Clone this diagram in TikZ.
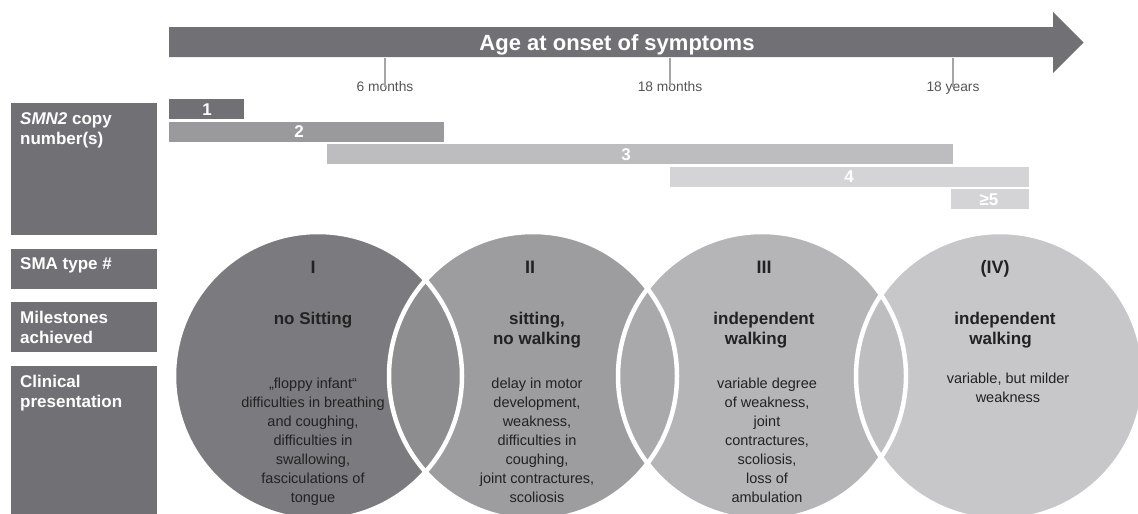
\documentclass[tikz,border=0pt]{standalone}
\usepackage{fontspec}
\setmainfont{Liberation Sans}
\definecolor{darkg}{HTML}{717175}
\definecolor{circI}{HTML}{7B7B7F}
\definecolor{lensA}{HTML}{8D8D90}
\definecolor{circII}{HTML}{9D9DA0}
\definecolor{barII}{HTML}{9A9A9D}
\definecolor{lensB}{HTML}{A9A9AC}
\definecolor{circIII}{HTML}{B5B5B8}
\definecolor{barIII}{HTML}{BDBDC0}
\definecolor{lensC}{HTML}{BEBEC1}
\definecolor{circIV}{HTML}{C7C7C9}
\definecolor{barIV}{HTML}{D4D4D6}
\definecolor{txt}{HTML}{222222}
\definecolor{ticktxt}{HTML}{555555}
\definecolor{tickcol}{HTML}{A5A5A5}
\tikzset{
 ctext/.style={font=\fontsize{14.5}{19}\selectfont, text=txt, align=center, inner sep=0pt, anchor=north},
 mtext/.style={font=\bfseries\fontsize{17}{20}\selectfont, text=txt, align=center, inner sep=0pt, anchor=north},
 ttext/.style={font=\bfseries\fontsize{18}{20}\selectfont, text=txt, inner sep=0pt, anchor=base},
 ltext/.style={font=\bfseries\fontsize{17}{20}\selectfont, text=white, align=left, inner sep=0pt, anchor=north west},
 btext/.style={font=\bfseries\fontsize{17}{20}\selectfont, text=white, inner sep=0pt, anchor=base},
 ticklabel/.style={font=\fontsize{13.8}{16}\selectfont, text=ticktxt, inner sep=0pt, anchor=base},
 tickline/.style={draw=tickcol, line width=1.2pt},
 lensline/.style={draw=white, line width=4.5pt},
}
\begin{document}
\begin{tikzpicture}[x=1pt,y=-1pt]
\clip (0,0) rectangle (1138,514);
\fill[white] (0,0) rectangle (1138,514);
% timeline arrow
\fill[darkg] (169,27) -- (1053,27) -- (1053,12) -- (1083.5,42.5) -- (1053,73) -- (1053,57) -- (169,57) -- cycle;
\node[font=\bfseries\fontsize{22}{26}\selectfont, text=white, inner sep=0pt, anchor=base] (title) at (617,50) {Age at onset of symptoms};
% ticks
\coordinate (k6) at (385,58);
\coordinate (k18m) at (670,58);
\coordinate (k18y) at (953,58);
\node[ticklabel] (t6) at (385,91) {6 months};
\node[ticklabel] (t18m) at (670,91) {18 months};
\node[ticklabel] (t18y) at (953,91) {18 years};
\draw[tickline] (k6) -- ([yshift=-6pt]t6.north);
\draw[tickline] (k18m) -- ([yshift=-6pt]t18m.north);
\draw[tickline] (k18y) -- ([yshift=-6pt]t18y.north);
% copy number bars
\fill[darkg] (169,99) rectangle (244,119);
\fill[barII] (169,121.5) rectangle (444,141.5);
\fill[barIII] (327,144) rectangle (953,164);
\fill[barIV] (670,166.5) rectangle (1029,186.5);
\fill[barIV] (951,189) rectangle (1029,209);
\node[btext] (n1) at (207,115) {1};
\node[btext] (n2) at (299,137.5) {2};
\node[btext] (n3) at (626,160) {3};
\node[btext] (n4) at (849,182.5) {4};
\node[btext] (n5) at (989,205) {≥5};
% left boxes
\fill[darkg] (11,103) rectangle (157,235);
\fill[darkg] (11,249) rectangle (157,289);
\fill[darkg] (11,302) rectangle (157,352);
\fill[darkg] (11,366) rectangle (157,520);
\node[ltext] (lsmn) at (20,110) {\strut\textit{SMN2} copy\\number(s)};
\node[ltext] (lsma) at (20,255) {\strut SMA type \#};
\node[ltext] (lmil) at (20,309) {\strut Milestones\\achieved};
\node[ltext] (lcli) at (20,373) {\strut Clinical\\presentation};
% circles
\coordinate (C1) at (318,376);
\coordinate (C2) at (533,376);
\coordinate (C3) at (762,376);
\coordinate (C4) at (1000,376);
\fill[circI] (C1) circle[radius=144];
\fill[circII] (C2) circle[radius=144];
\fill[circIII] (C3) circle[radius=144];
\fill[circIV] (C4) circle[radius=144];
\begin{scope}\clip (C1) circle[radius=144]; \fill[lensA] (C2) circle[radius=144];\end{scope}
\begin{scope}\clip (C2) circle[radius=144]; \fill[lensB] (C3) circle[radius=144];\end{scope}
\begin{scope}\clip (C3) circle[radius=144]; \fill[lensC] (C4) circle[radius=144];\end{scope}
\draw[lensline] (C1) circle[radius=144];
\draw[lensline] (C2) circle[radius=144];
\draw[lensline] (C3) circle[radius=144];
\draw[lensline] (C4) circle[radius=144];
% type labels
\node[ttext] (ty1) at (313,273) {I};
\node[ttext] (ty2) at (530,273) {II};
\node[ttext] (ty3) at (764,273) {III};
\node[ttext] (ty4) at (995,273) {(IV)};
% milestones
\node[mtext] (m1) at (313,310) {\strut no Sitting};
\node[mtext] (m2) at (537,310) {\strut sitting,\\no walking};
\node[mtext] (m3) at (764,310) {\strut independent\\walking\hspace*{16pt}};
\node[mtext] (m4) at (1005,310) {\strut independent\\walking\hspace*{9pt}};
% clinical
\node[ctext] (p1) at (313,374.7) {\strut „floppy infant“\\difficulties in breathing\\and coughing,\\difficulties in\\swallowing,\\fasciculations of\\tongue};
\node[ctext] (p2) at (537,374.7) {\strut delay in motor\\development,\\weakness,\\difficulties in\\coughing,\\joint contractures,\\scoliosis};
\node[ctext] (p3) at (767,374.7) {\strut variable degree\\of weakness,\\joint\\contractures,\\scoliosis,\\loss of\\ambulation};
\node[ctext] (p4) at (1008,369.7) {\strut variable, but milder\\weakness};
\end{tikzpicture}
\end{document}
